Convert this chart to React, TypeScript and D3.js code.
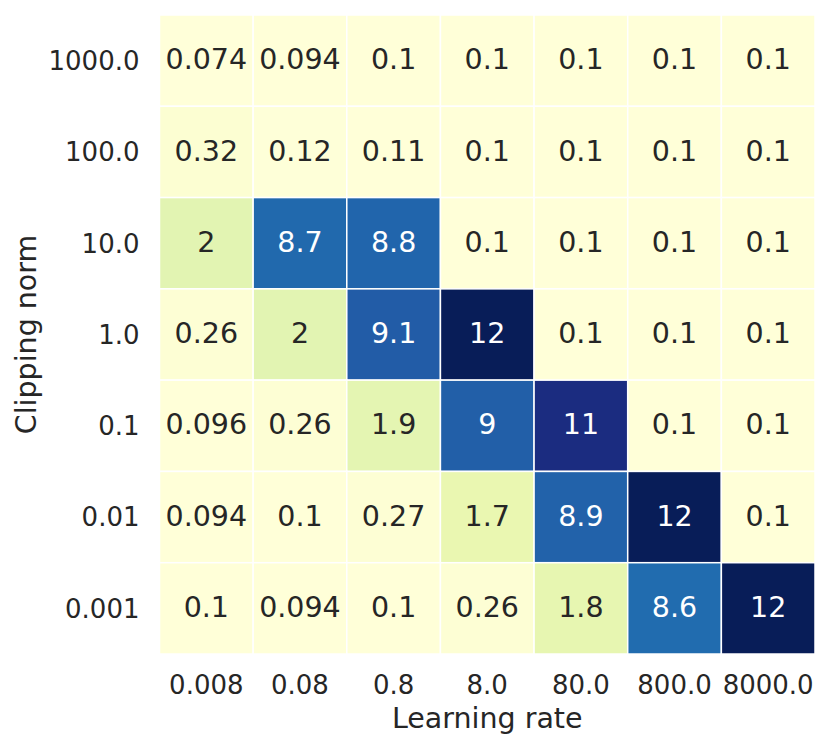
import React, { useEffect, useRef } from 'react';
import * as d3 from 'd3';

// rows from top to bottom (clipping norm), columns left to right (learning rate)
const learningRates = ['0.008', '0.08', '0.8', '8.0', '80.0', '800.0', '8000.0'];
const clippingNorms = ['1000.0', '100.0', '10.0', '1.0', '0.1', '0.01', '0.001'];

const row1000 = [0.074, 0.094, 0.1, 0.1, 0.1, 0.1, 0.1];
const row100 = [0.32, 0.12, 0.11, 0.1, 0.1, 0.1, 0.1];
const row10 = [2, 8.7, 8.8, 0.1, 0.1, 0.1, 0.1];
const row1 = [0.26, 2, 9.1, 12, 0.1, 0.1, 0.1];
const row01 = [0.096, 0.26, 1.9, 9, 11, 0.1, 0.1];
const row001 = [0.094, 0.1, 0.27, 1.7, 8.9, 12, 0.1];
const row0001 = [0.1, 0.094, 0.1, 0.26, 1.8, 8.6, 12];

const values = [row1000, row100, row10, row1, row01, row001, row0001];

// matplotlib YlGnBu anchors
const ylgnbu = ['#ffffd9', '#edf8b1', '#c7e9b4', '#7fcdbb', '#41b6c4', '#1d91c0', '#225ea8', '#253494', '#081d58'];

const FONT = 'DejaVu Sans, sans-serif';

export default function App() {
  const svgRef = useRef<SVGSVGElement>(null);

  useEffect(() => {
    if (!svgRef.current) return;
    const width = 830;
    const height = 748;
    const margin = { top: 15, right: 15, bottom: 94, left: 159.5 };
    const w = width - margin.left - margin.right;
    const h = height - margin.top - margin.bottom;

    const svg = d3.select(svgRef.current);
    svg.selectAll('*').remove();

    const g = svg.append('g').attr('transform', `translate(${margin.left},${margin.top})`);

    const x = d3.scaleBand().domain(learningRates).range([0, w]);
    const y = d3.scaleBand().domain(clippingNorms).range([0, h]);

    const flat = values.flat();
    const vmin = d3.min(flat) as number;
    const vmax = d3.max(flat) as number;
    const color = d3
      .scaleLinear<string>()
      .domain(ylgnbu.map((_, i) => vmin + (i / (ylgnbu.length - 1)) * (vmax - vmin)))
      .range(ylgnbu)
      .interpolate(d3.interpolateRgb)
      .clamp(true);

    const cells = values.flatMap((row, r) =>
      row.map((v, c) => ({ v, row: clippingNorms[r], col: learningRates[c] }))
    );

    g.selectAll('rect.cell')
      .data(cells)
      .enter()
      .append('rect')
      .attr('class', 'cell')
      .attr('x', d => x(d.col)!)
      .attr('y', d => y(d.row)!)
      .attr('width', x.bandwidth())
      .attr('height', y.bandwidth())
      .attr('fill', d => color(d.v))
      .attr('stroke', 'white')
      .attr('stroke-width', 1.5);

    g.selectAll('text.annot')
      .data(cells)
      .enter()
      .append('text')
      .attr('class', 'annot')
      .attr('x', d => x(d.col)! + x.bandwidth() / 2)
      .attr('y', d => y(d.row)! + y.bandwidth() / 2 + 8.6)
      .attr('text-anchor', 'middle')
      .attr('font-family', FONT)
      .attr('font-size', 28.5)
      .attr('fill', d => (d.v > 6 ? '#ffffff' : '#262626'))
      .text(d => String(d.v));

    // x tick labels
    g.selectAll('text.xt')
      .data(learningRates)
      .enter()
      .append('text')
      .attr('class', 'xt')
      .attr('x', d => x(d)! + x.bandwidth() / 2)
      .attr('y', h + 40)
      .attr('text-anchor', 'middle')
      .attr('font-family', FONT)
      .attr('font-size', 26)
      .attr('fill', '#262626')
      .text(d => d);

    // y tick labels
    g.selectAll('text.yt')
      .data(clippingNorms)
      .enter()
      .append('text')
      .attr('class', 'yt')
      .attr('x', -20)
      .attr('y', d => y(d)! + y.bandwidth() / 2 + 9.4)
      .attr('text-anchor', 'end')
      .attr('font-family', FONT)
      .attr('font-size', 26)
      .attr('fill', '#262626')
      .text(d => d);

    svg.append('text')
      .attr('x', margin.left + w / 2)
      .attr('y', 727.5)
      .attr('text-anchor', 'middle')
      .attr('font-family', FONT)
      .attr('font-size', 28.5)
      .attr('fill', '#262626')
      .text('Learning rate');

    svg.append('text')
      .attr('transform', `translate(36,${margin.top + h / 2}) rotate(-90)`)
      .attr('text-anchor', 'middle')
      .attr('font-family', FONT)
      .attr('font-size', 28.5)
      .attr('fill', '#262626')
      .text('Clipping norm');
  }, []);

  return (
    <div style={{ width: 830, height: 748, margin: -8, background: 'white' }}>
      <svg ref={svgRef} width={830} height={748} style={{ display: 'block' }} />
    </div>
  );
}
